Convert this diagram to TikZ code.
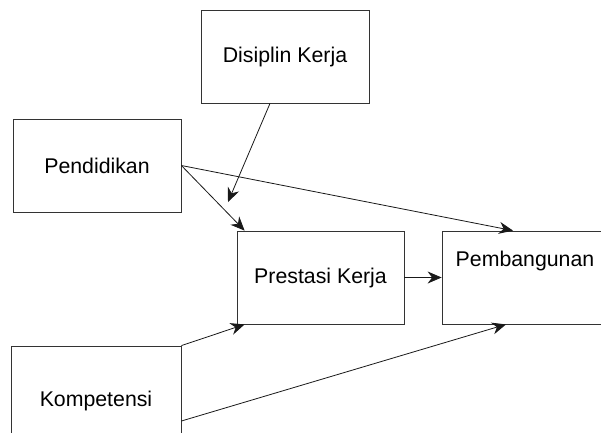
\documentclass[tikz,border=0pt]{standalone}
\usepackage{fontspec}
\setmainfont{Liberation Sans}
\usetikzlibrary{arrows.meta}
\begin{document}
\begin{tikzpicture}[x=1pt,y=-1pt,
 box/.style={draw=black!80,line width=0.8pt,minimum width=168pt,minimum height=93pt,inner sep=0pt,font=\fontsize{21.3}{25}\selectfont},
 arr/.style={-{Stealth[length=14pt,width=12pt]},line width=0.8pt,draw=black!90}]
\useasboundingbox (0,0) rectangle (601,432);
\node[box] (dk) at (285,56.5) {Disiplin Kerja};
\node[box] (pd) at (97,165.5) {Pendidikan};
\node[box,minimum width=167pt] (pk) at (320.5,277.5) {Prestasi Kerja};
\node[box,minimum width=166pt,text depth=37.5pt] (pb) at (525,277.5) {Pembangunan};
\node[box,minimum width=170pt,minimum height=110pt] (kp) at (96,401) {Kompetensi};
\coordinate (dkend) at (228,202);
\draw[arr] ([xshift=-15pt]dk.south) -- (dkend);
\draw[arr] (pd.east) -- ([xshift=8pt]pk.north west);
\draw[arr] (pd.east) -- ([xshift=-12pt]pb.north);
\draw[arr] (pk.east) -- (pb.west);
\draw[arr] (kp.north east) -- ([xshift=8pt]pk.south west);
\draw[arr] ([yshift=-20pt]kp.east) -- ([xshift=-19pt]pb.south);
\end{tikzpicture}
\end{document}
